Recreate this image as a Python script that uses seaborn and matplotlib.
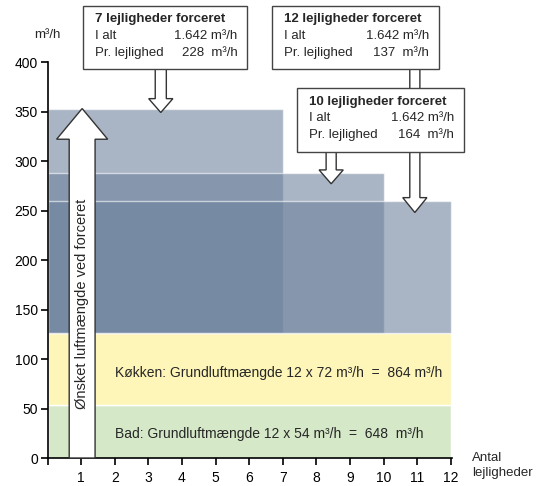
import matplotlib
matplotlib.use("Agg")
import matplotlib.pyplot as plt
from matplotlib.patches import Polygon, Rectangle
import seaborn as sns

# data
total_apartments = 12
bath_base = 54        # m3/h per apartment
kitchen_base = 72     # m3/h per apartment
forced_counts = [7, 10, 12]
forced_per_apartment = [228, 164, 137]
forced_heights = [227, 162, 134]   # bar height above the base bands
forced_total = "1.642"
x_ticks = list(range(0, 13))
x_labels = [""] + [str(i) for i in range(1, 13)]
y_ticks = list(range(0, 401, 50))

sns.set_theme(style="ticks")
plt.rcParams['font.family'] = ['Liberation Sans', 'DejaVu Sans']

fig = plt.figure(figsize=(5.37, 4.86), dpi=100)
ax = fig.add_axes([0.0885, 0.0576, 0.7541, 0.8148])

green = "#d5e8c8"
yellow = "#fdf6b8"
blue = "#6e829d"

base = bath_base + kitchen_base
ax.bar(0, bath_base, width=total_apartments, bottom=0, align='edge',
       color=green, edgecolor='white', linewidth=1, zorder=1)
ax.bar(0, kitchen_base, width=total_apartments, bottom=bath_base, align='edge',
       color=yellow, edgecolor='white', linewidth=1, zorder=1)
for n, h in zip(forced_counts, forced_heights):
    ax.bar(0, h, width=n, bottom=base, align='edge', color=blue, alpha=0.59,
           edgecolor=(1, 1, 1, 0.55), linewidth=1, zorder=2)

ax.text(2.0, 86, f"Køkken: Grundluftmængde {total_apartments} x {kitchen_base} m³/h  =  "
        f"{total_apartments * kitchen_base} m³/h", fontsize=10, va='center', zorder=5)
ax.text(2.0, 24, f"Bad: Grundluftmængde {total_apartments} x {bath_base} m³/h  =  "
        f"{total_apartments * bath_base}  m³/h", fontsize=10, va='center', zorder=5)


def arrow(xc, y0, y1, shaft, head, head_len, **kw):
    # vertical block arrow from y0 to tip y1
    d = 1 if y1 > y0 else -1
    yb = y1 - d * head_len
    pts = [(xc - shaft, y0), (xc - shaft, yb), (xc - head, yb), (xc, y1),
           (xc + head, yb), (xc + shaft, yb), (xc + shaft, y0)]
    p = Polygon(pts, closed=True, facecolor='white', edgecolor='#333333',
                linewidth=1, clip_on=False, **kw)
    ax.add_patch(p)


# big up arrow
top1 = base + forced_heights[0]
arrow(1.03, 0, top1, 0.385, 0.76, 31, zorder=4)
ax.text(1.03, 156, "Ønsket luftmængde ved forceret", rotation=90, fontsize=10.5,
        ha='center', va='center', zorder=5)

# down arrows from the boxes
arrow(3.37, 393, base + forced_heights[0] - 4, 0.165, 0.36, 14, zorder=4)
arrow(8.44, 309, base + forced_heights[1] - 11, 0.15, 0.36, 14, zorder=4)
arrow(10.93, 393, base + forced_heights[2] - 12, 0.15, 0.36, 15, zorder=4)

boxes = [
    (1.05, 393, 5.95, 457, 0),
    (6.69, 393, 11.65, 457, 2),
    (7.43, 309, 12.39, 374, 1),
]
for x0, y0, x1, y1, i in boxes:
    ax.add_patch(Rectangle((x0, y0), x1 - x0, y1 - y0, facecolor='white',
                           edgecolor='#444444', linewidth=1, clip_on=False, zorder=6))
    tx = x0 + 0.35
    ax.text(tx, y1 - 14, f"{forced_counts[i]} lejligheder forceret", fontsize=9.5,
            fontweight='bold', va='center', zorder=7, clip_on=False)
    ax.text(tx, y1 - 31, "I alt", fontsize=9.5, va='center', zorder=7)
    ax.text(tx, y1 - 48, "Pr. lejlighed", fontsize=9.5, va='center', zorder=7)
    ax.text(x1 - 0.3, y1 - 31, f"{forced_total} m³/h", fontsize=9.5, va='center',
            ha='right', zorder=7)
    ax.text(x1 - 0.3, y1 - 48, f"{forced_per_apartment[i]}  m³/h", fontsize=9.5,
            va='center', ha='right', zorder=7)

ax.set_xlim(0, 12.05)
ax.set_ylim(0, 400)
ax.set_xticks(x_ticks)
ax.set_xticklabels(x_labels)
ax.set_yticks(y_ticks)
ax.tick_params(axis='both', direction='out', length=5, width=1.2, colors='black',
               labelsize=10)
ax.tick_params(axis='x', pad=4)
ax.tick_params(axis='y', pad=2)
sns.despine(ax=ax)
for s in ['left', 'bottom']:
    ax.spines[s].set_color('black')
    ax.spines[s].set_linewidth(1.2)
ax.set_facecolor('white')

ax.text(0, 427, "m³/h", fontsize=9.5, ha='center', va='center', clip_on=False)
ax.text(12.63, 6, "Antal\nlejligheder", fontsize=9.5, ha='left', va='top',
        linespacing=1.3, clip_on=False)

fig.savefig("out.png", dpi=100, facecolor='white')
